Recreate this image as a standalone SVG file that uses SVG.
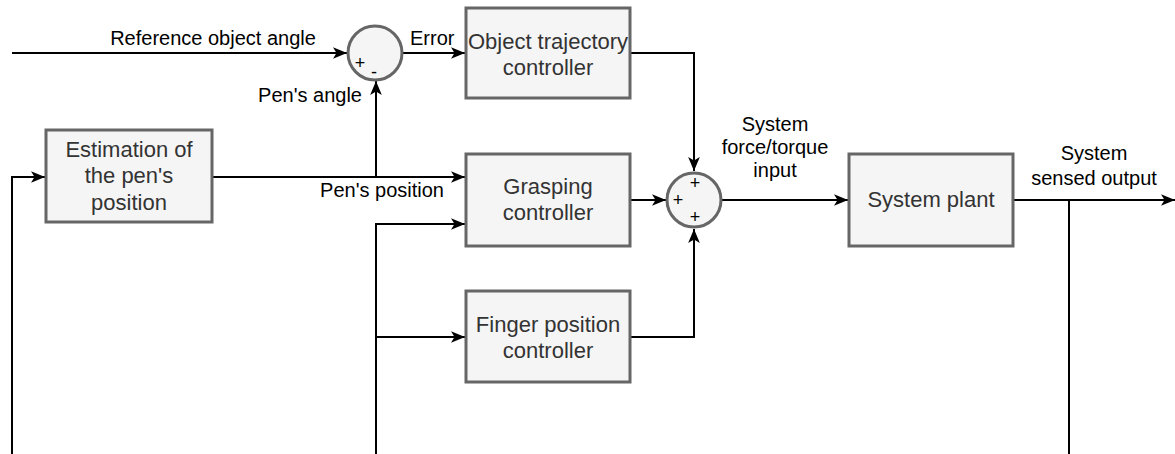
<svg xmlns="http://www.w3.org/2000/svg" width="1175" height="454" viewBox="0 0 1175 454">
<style>
.box{fill:#f5f5f5;stroke:#666;stroke-width:3}
.sum{fill:#f5f5f5;stroke:#666;stroke-width:3}
.bt{font-family:"Liberation Sans",Arial,sans-serif;font-size:22px;fill:#333;text-anchor:middle}
.lb{font-family:"Liberation Sans",Arial,sans-serif;font-size:20px;fill:#000}
.sg{font-family:"Liberation Sans",Arial,sans-serif;font-size:18px;fill:#000;text-anchor:middle}
.c{fill:none;stroke:#000;stroke-width:2}
.a{marker-end:url(#arr)}
</style>
<defs>
<marker id="arr" viewBox="0 0 12 10" refX="12" refY="5" markerWidth="14" markerHeight="12" markerUnits="userSpaceOnUse" orient="auto">
<path d="M0,0 L12,5 L0,10 L3,5 Z" fill="#000"/>
</marker>
</defs>
<g id="connectors">
<path class="c a" d="M12,53 H347"/>
<path class="c a" d="M403,53 H465"/>
<path class="c a" d="M212,177 H465"/>
<path class="c a" d="M376,177 V81"/>
<path class="c a" d="M376,454 V224 H465"/>
<path class="c a" d="M376,337 H465"/>
<path class="c a" d="M12,454 V177 H45"/>
<path class="c a" d="M630,53 H694 V171"/>
<path class="c a" d="M630,200 H666"/>
<path class="c a" d="M630,337 H694 V229"/>
<path class="c a" d="M722,200 H848"/>
<path class="c a" d="M1013,200 H1175"/>
<path class="c" d="M1069,200 V454"/>
</g>
<g id="labels">
<text class="lb" x="213" y="45" text-anchor="middle">Reference object angle</text>
<text class="lb" x="410" y="45">Error</text>
<text class="lb" x="362" y="102" text-anchor="end">Pen's angle</text>
<text class="lb" x="444" y="197" text-anchor="end">Pen's position</text>
<text class="lb" x="775" y="131" text-anchor="middle">System</text>
<text class="lb" x="775" y="154" text-anchor="middle">force/torque</text>
<text class="lb" x="775" y="177" text-anchor="middle">input</text>
<text class="lb" x="1094" y="160" text-anchor="middle">System</text>
<text class="lb" x="1094" y="185" text-anchor="middle">sensed output</text>
</g>
<g id="sum1">
<circle class="sum" cx="375" cy="53" r="27"/>
<text class="sg" x="360" y="69">+</text>
<text class="sg" x="374" y="78">-</text>
</g>
<g id="sum2">
<circle class="sum" cx="694" cy="200" r="27"/>
<text class="sg" x="695" y="189">+</text>
<text class="sg" x="678" y="206">+</text>
<text class="sg" x="695" y="223">+</text>
</g>
<g id="object-trajectory-controller">
<rect class="box" x="466" y="8" width="164" height="90"/>
<text class="bt" x="548" y="49">Object trajectory</text>
<text class="bt" x="548" y="75">controller</text>
</g>
<g id="grasping-controller">
<rect class="box" x="466" y="154" width="164" height="92"/>
<text class="bt" x="548" y="194">Grasping</text>
<text class="bt" x="548" y="220">controller</text>
</g>
<g id="finger-position-controller">
<rect class="box" x="466" y="291" width="164" height="91"/>
<text class="bt" x="548" y="332">Finger position</text>
<text class="bt" x="548" y="358">controller</text>
</g>
<g id="estimation">
<rect class="box" x="46" y="130" width="166" height="92"/>
<text class="bt" x="129" y="157">Estimation of</text>
<text class="bt" x="129" y="183">the pen's</text>
<text class="bt" x="129" y="210">position</text>
</g>
<g id="system-plant">
<rect class="box" x="849" y="154" width="164" height="92"/>
<text class="bt" x="931" y="207">System plant</text>
</g>
</svg>
